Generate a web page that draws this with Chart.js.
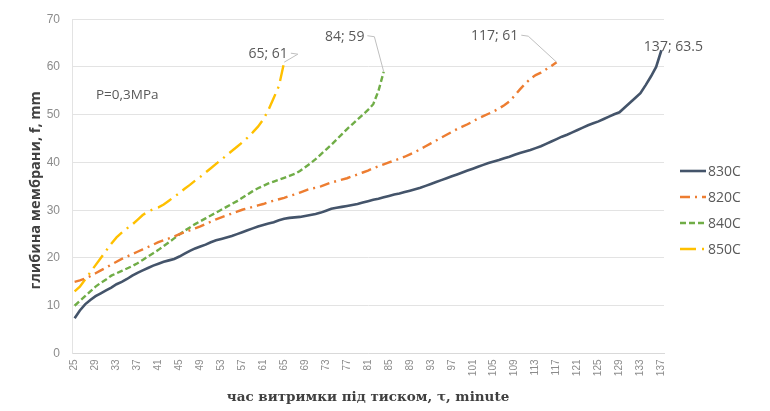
<!DOCTYPE html>
<html>
<head>
<meta charset="utf-8">
<script src="https://cdn.jsdelivr.net/npm/chart.js@4.4.1/dist/chart.umd.min.js"></script>
<style>
  html, body { margin: 0; padding: 0; background: #ffffff; }
  #wrap { width: 770px; height: 411px; position: relative; }
</style>
</head>
<body>
<div id="wrap"><canvas id="c" width="770" height="411"></canvas></div>
<script>
// Holding time under pressure, minutes (one category per minute)
const categories = [
  25, 26, 27, 28, 29, 30, 31, 32, 33, 34, 35, 36, 37, 38, 39, 40, 41, 42, 43, 44,
  45, 46, 47, 48, 49, 50, 51, 52, 53, 54, 55, 56, 57, 58, 59, 60, 61, 62, 63, 64,
  65, 66, 67, 68, 69, 70, 71, 72, 73, 74, 75, 76, 77, 78, 79, 80, 81, 82, 83, 84,
  85, 86, 87, 88, 89, 90, 91, 92, 93, 94, 95, 96, 97, 98, 99, 100, 101, 102, 103, 104,
  105, 106, 107, 108, 109, 110, 111, 112, 113, 114, 115, 116, 117, 118, 119, 120, 121, 122, 123, 124,
  125, 126, 127, 128, 129, 130, 131, 132, 133, 134, 135, 136, 137
];

// Membrane depth f, mm — 830C (25..137)
const depth830 = [
  7.4, 9, 10.3, 11.2, 12, 12.6, 13.2, 13.8, 14.5, 15, 15.6, 16.3, 16.9, 17.4, 17.9, 18.4, 18.8, 19.2, 19.5, 19.8,
  20.3, 20.9, 21.5, 22, 22.4, 22.8, 23.3, 23.7, 24, 24.3, 24.6, 25, 25.4, 25.8, 26.2, 26.6, 26.9, 27.2, 27.5, 27.9,
  28.2, 28.4, 28.5, 28.6, 28.8, 29, 29.2, 29.5, 29.9, 30.3, 30.5, 30.7, 30.9, 31.1, 31.3, 31.6, 31.9, 32.2, 32.4, 32.7,
  33, 33.3, 33.5, 33.8, 34.1, 34.4, 34.7, 35.1, 35.5, 35.9, 36.3, 36.7, 37.1, 37.5, 37.9, 38.3, 38.7, 39.1, 39.5, 39.9,
  40.2, 40.5, 40.9, 41.2, 41.6, 42, 42.3, 42.6, 43, 43.4, 43.9, 44.4, 44.9, 45.4, 45.8, 46.3, 46.8, 47.3, 47.8, 48.2,
  48.6, 49.1, 49.6, 50.1, 50.5, 51.5, 52.5, 53.5, 54.5, 56.2, 58, 60, 63.5
];

// 820C (25..117)
const depth820 = [
  15, 15.3, 15.7, 16.2, 16.8, 17.4, 18, 18.6, 19.2, 19.8, 20.3, 20.8, 21.3, 21.8, 22.3, 22.8, 23.3, 23.7, 24.1, 24.5,
  25, 25.4, 25.8, 26.2, 26.6, 27.1, 27.6, 28.1, 28.5, 28.9, 29.3, 29.7, 30.1, 30.4, 30.7, 31, 31.3, 31.7, 32, 32.3,
  32.6, 33, 33.3, 33.7, 34.1, 34.5, 34.7, 35, 35.4, 35.8, 36.1, 36.4, 36.7, 37.1, 37.5, 37.9, 38.3, 38.8, 39.2, 39.6,
  40, 40.4, 40.8, 41.2, 41.7, 42.2, 42.8, 43.4, 44, 44.6, 45.2, 45.8, 46.4, 47, 47.5, 48, 48.6, 49.2, 49.7, 50.2,
  50.7, 51.3, 52, 52.8, 54, 55.3, 56.5, 57.5, 58.3, 58.8, 59.5, 60.2, 61
];

// 840C (25..84)
const depth840 = [
  10, 11, 12, 13, 14, 14.8, 15.5, 16.3, 16.8, 17.3, 17.8, 18.3, 18.9, 19.6, 20.3, 21, 21.7, 22.5, 23.3, 24.1,
  24.9, 25.7, 26.4, 27.1, 27.7, 28.3, 28.9, 29.5, 30.1, 30.7, 31.3, 31.9, 32.6, 33.3, 34, 34.6, 35.1, 35.6, 36, 36.4,
  36.8, 37.2, 37.6, 38.2, 39, 39.8, 40.7, 41.7, 42.7, 43.7, 44.8, 45.9, 47, 48, 49, 50, 51, 52.2, 55, 59
];

// 850C (25..65)
const depth850 = [
  13, 14, 15.5, 17, 18.5, 20, 21.5, 23, 24.3, 25.3, 26.2, 27, 28, 29, 29.7, 30.2, 30.6, 31.2, 32, 32.8,
  33.6, 34.5, 35.3, 36.2, 37, 37.9, 38.8, 39.7, 40.6, 41.5, 42.4, 43.3, 44.2, 45.2, 46.3, 47.5, 49, 51, 53.5, 56,
  61
];

const seriesNames = ['830C', '820C', '840C', '850C'];
const yTicks = [0, 10, 20, 30, 40, 50, 60, 70];

const GREY_TXT = '#595959';
const SANS = '"Open Sans", "Liberation Sans", sans-serif';

// End-point callouts: dataset index, label text, label offset from the point
const callouts = [
  { ds: 3, text: '65; 61',    dx: -16, dy: -8,  leader: true },
  { ds: 2, text: '84; 59',    dx: -39, dy: -35, leader: true },
  { ds: 1, text: '117; 61',   dx: -62, dy: -26, leader: true },
  { ds: 0, text: '137; 63.5', dx: 12,  dy: -3,  leader: false }
];

const overlay = {
  id: 'overlay',
  afterDatasetsDraw(chart) {
    const ctx = chart.ctx;
    const area = chart.chartArea;
    ctx.save();

    // pressure note
    ctx.fillStyle = GREY_TXT;
    ctx.font = '13.5px ' + SANS;
    ctx.textAlign = 'left';
    ctx.textBaseline = 'middle';
    ctx.fillText('P=0,3MPa', area.left + 24, 95);

    // callouts at the last point of each series
    ctx.font = '14px ' + SANS;
    callouts.forEach(c => {
      const meta = chart.getDatasetMeta(c.ds);
      const pt = meta.data[meta.data.length - 1];
      const lx = pt.x + c.dx, ly = pt.y + c.dy;
      const w = ctx.measureText(c.text).width;
      if (c.leader) {
        ctx.strokeStyle = '#bfbfbf';
        ctx.lineWidth = 1;
        ctx.setLineDash([]);
        ctx.beginPath();
        ctx.moveTo(lx + w / 2 + 3, ly - 1);
        ctx.lineTo(lx + w / 2 + 10, ly);
        ctx.lineTo(pt.x, pt.y);
        ctx.stroke();
      }
      ctx.fillStyle = GREY_TXT;
      ctx.textAlign = 'center';
      ctx.fillText(c.text, lx, ly);
    });

    // axis titles
    ctx.fillStyle = '#404040';
    ctx.font = 'bold 13.5px "DejaVu Serif", serif';
    ctx.textAlign = 'center';
    ctx.fillText('час витримки під тиском, τ, minute', (area.left + area.right) / 2, 397);

    ctx.save();
    ctx.translate(36, (area.top + area.bottom) / 2 + 4);
    ctx.rotate(-Math.PI / 2);
    ctx.font = 'bold 14.5px ' + SANS;
    ctx.fillText('глибина мембрани, f, mm', 0, 0);
    ctx.restore();

    // legend
    const lx0 = 680, ly0 = 171, step = 26;
    chart.data.datasets.forEach((ds, i) => {
      const y = ly0 + i * step;
      ctx.strokeStyle = ds.borderColor;
      ctx.lineWidth = ds.borderWidth;
      ctx.setLineDash(ds.borderDash || []);
      ctx.beginPath();
      ctx.moveTo(lx0, y);
      ctx.lineTo(lx0 + 26, y);
      ctx.stroke();
      ctx.setLineDash([]);
      ctx.fillStyle = GREY_TXT;
      ctx.font = '14px ' + SANS;
      ctx.textAlign = 'left';
      ctx.fillText(ds.label, lx0 + 28, y + 1);
    });

    ctx.restore();
  }
};

const common = { fill: false, pointRadius: 0, pointHoverRadius: 0, tension: 0, spanGaps: false };

new Chart(document.getElementById('c'), {
  type: 'line',
  data: {
    labels: categories,
    datasets: [
      { ...common, label: seriesNames[0], data: depth830, borderColor: '#44546A', borderWidth: 2.6 },
      { ...common, label: seriesNames[1], data: depth820, borderColor: '#ED7D31', borderWidth: 2.4, borderDash: [10, 5, 2, 5] },
      { ...common, label: seriesNames[2], data: depth840, borderColor: '#70AD47', borderWidth: 2.4, borderDash: [6, 3] },
      { ...common, label: seriesNames[3], data: depth850, borderColor: '#FFC000', borderWidth: 2.4, borderDash: [16, 6, 2, 6] }
    ]
  },
  options: {
    responsive: false,
    animation: false,
    events: [],
    layout: { padding: { top: 16, right: 106, bottom: 0, left: 0 } },
    plugins: { legend: { display: false }, tooltip: { enabled: false }, title: { display: false } },
    scales: {
      x: {
        type: 'category',
        offset: true,
        grid: { display: false, drawTicks: false },
        border: { display: true, color: '#d9d9d9', width: 1 },
        ticks: {
          autoSkip: false,
          minRotation: 90,
          maxRotation: 90,
          padding: 6,
          color: '#8c8c8c',
          font: { size: 10, family: '"Liberation Sans", sans-serif' },
          callback: function (value, index) {
            return index % 4 === 0 ? String(categories[index]) : null;
          }
        },
        afterFit: s => { s.height = 57.5; }
      },
      y: {
        min: 0,
        max: 70,
        afterBuildTicks: s => { s.ticks = yTicks.map(v => ({ value: v })); },
        grid: { color: '#e3e3e3', lineWidth: 1, drawTicks: false },
        border: { display: true, color: '#e3e3e3' },
        ticks: {
          padding: 12,
          color: '#8c8c8c',
          font: { size: 12, family: '"Liberation Sans", sans-serif' }
        },
        afterFit: s => { s.width = 72; }
      }
    }
  },
  plugins: [overlay]
});
</script>
</body>
</html>
